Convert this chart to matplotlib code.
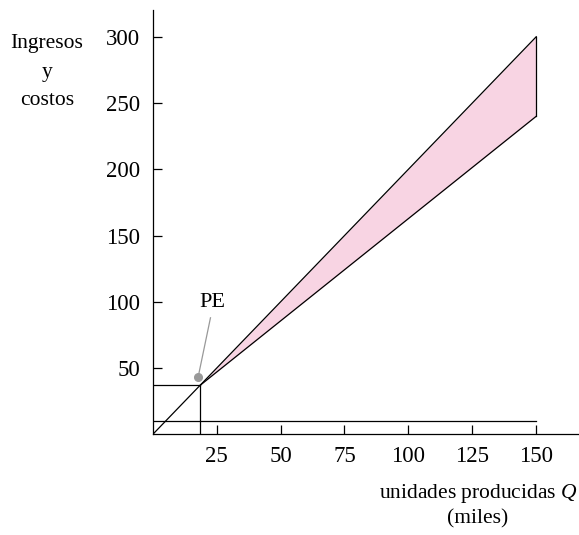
import numpy as np
import matplotlib
matplotlib.use("Agg")
import matplotlib.pyplot as plt

plt.rcParams["font.family"] = ["Liberation Serif", "DejaVu Serif"]
plt.rcParams["mathtext.fontset"] = "custom"
plt.rcParams["mathtext.rm"] = "Liberation Serif"
plt.rcParams["mathtext.it"] = "Liberation Serif:italic"

# data
q_rev = [0, 150]
revenue = [0, 300]
be_q, be_val = 18.5, 37
q_cost = [be_q, 150]
cost = [be_val, 240]
fixed_cost = 10
x_ticks = [25, 50, 75, 100, 125, 150]
y_ticks = [50, 100, 150, 200, 250, 300]

fig = plt.figure(figsize=(5.79, 5.35), dpi=100)
ax = fig.add_axes([0.2637, 0.1879, 0.7353, 0.793])
ax.set_xlim(0, 166.5)
ax.set_ylim(0, 320)

# shaded profit wedge
qq = np.array([be_q, 150])
r_line = np.interp(qq, q_rev, revenue)
c_line = np.interp(qq, q_cost, cost)
ax.fill_between(qq, c_line, r_line, color="#f8d4e3", lw=0)

lw = 0.9
ax.plot(q_rev, revenue, color="black", lw=lw)
ax.plot(q_cost, cost, color="black", lw=lw)
ax.plot([150, 150], [cost[-1], revenue[-1]], color="black", lw=lw)
ax.plot([0, 150], [fixed_cost, fixed_cost], color="black", lw=lw)
ax.plot([0, be_q], [be_val, be_val], color="black", lw=lw)
ax.plot([be_q, be_q], [0, be_val], color="black", lw=lw)

# break-even label
ax.plot([17.8], [43.5], "o", color="#999999", ms=5.5)
ax.plot([17.8, 22.6], [43.5, 88], color="#999999", lw=0.9)
ax.text(23.4, 99.5, "PE", fontsize=16, ha="center", va="center")

for s in ["top", "right"]:
    ax.spines[s].set_visible(False)
for s in ["left", "bottom"]:
    ax.spines[s].set_linewidth(0.9)

ax.set_xticks(x_ticks)
ax.set_yticks(y_ticks)
ax.tick_params(direction="in", length=6.5, width=0.9, labelsize=16.5)
ax.tick_params(axis="x", pad=8)
ax.tick_params(axis="y", pad=9)

fig.text(47 / 579, 1 - 72 / 535, "Ingresos\ny\ncostos", fontsize=15.5,
         ha="center", va="center", linespacing=1.7)
fig.text(478 / 579, 1 - 505 / 535, "unidades producidas $\\it{Q}$\n(miles)",
         fontsize=15.5, ha="center", va="center", linespacing=1.3,
         multialignment="center")

fig.savefig("out.png", dpi=100)
